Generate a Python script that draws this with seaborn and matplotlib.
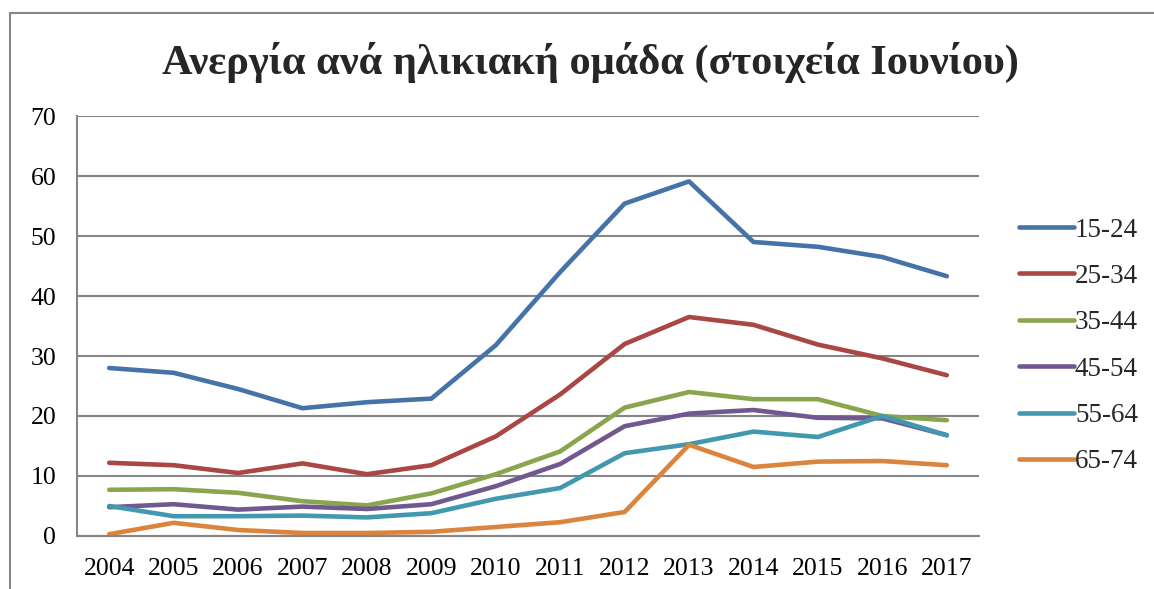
import pandas as pd
import matplotlib.pyplot as plt
import matplotlib.patches as mpatches
import seaborn as sns

# Data
years = ['2004', '2005', '2006', '2007', '2008', '2009', '2010',
         '2011', '2012', '2013', '2014', '2015', '2016', '2017']
groups = ['15-24', '25-34', '35-44', '45-54', '55-64', '65-74']
age_15_24 = [28.0, 27.2, 24.5, 21.3, 22.3, 22.9, 31.8, 44.0, 55.4, 59.1, 49.0, 48.2, 46.5, 43.3]
age_25_34 = [12.2, 11.8, 10.5, 12.1, 10.3, 11.8, 16.6, 23.6, 32.0, 36.5, 35.2, 31.9, 29.6, 26.8]
age_35_44 = [7.7, 7.8, 7.2, 5.8, 5.1, 7.1, 10.3, 14.1, 21.4, 24.0, 22.8, 22.8, 20.0, 19.3]
age_45_54 = [4.8, 5.3, 4.4, 4.9, 4.5, 5.3, 8.3, 12.0, 18.3, 20.4, 21.0, 19.7, 19.6, 16.8]
age_55_64 = [5.0, 3.3, 3.3, 3.4, 3.1, 3.8, 6.2, 8.0, 13.8, 15.3, 17.4, 16.5, 20.0, 16.8]
age_65_74 = [0.3, 2.2, 1.0, 0.5, 0.5, 0.7, 1.5, 2.3, 4.0, 15.2, 11.5, 12.4, 12.5, 11.8]
colors = ['#4573A7', '#AA4643', '#89A54E', '#71588F', '#4198AF', '#DB843D']

series = [age_15_24, age_25_34, age_35_44, age_45_54, age_55_64, age_65_74]
df = pd.concat([pd.DataFrame({'year': years, 'rate': vals, 'group': g})
                for g, vals in zip(groups, series)], ignore_index=True)

sns.set_theme(style="white")
plt.rcParams['font.family'] = ['Liberation Serif', 'DejaVu Serif']

fig = plt.figure(figsize=(11.54, 5.89), dpi=100)
ax = fig.add_axes([77 / 1154, 1 - 536 / 589, (979 - 77) / 1154, (536 - 116) / 589])

sns.lineplot(data=df, x='year', y='rate', hue='group', palette=colors,
             linewidth=3.3, ax=ax, legend=True)

ax.set_xlim(-0.5, len(years) - 0.5)
ax.set_ylim(0, 70)
ax.set_yticks(range(0, 71, 10))
ax.set_xlabel('')
ax.set_ylabel('')
ax.grid(axis='y', color='#868686', linewidth=1.5)
ax.set_axisbelow(True)
for side in ['top', 'right']:
    ax.spines[side].set_visible(False)
for side in ['left', 'bottom']:
    ax.spines[side].set_color('#868686')
    ax.spines[side].set_linewidth(1.5)
ax.tick_params(axis='both', length=0, labelsize=18.5, colors='black')
ax.tick_params(axis='y', pad=15)
ax.tick_params(axis='x', pad=16)

handles, labels = ax.get_legend_handles_labels()
ax.legend(handles, labels, loc='center left', bbox_to_anchor=(995 / 1154, 1 - 346 / 589),
          bbox_transform=fig.transFigure, frameon=False, fontsize=19.5,
          handlelength=2.0, handletextpad=0.05, labelspacing=0.79)

fig.text(590 / 1154, 1 - 62 / 589, 'Ανεργία ανά ηλικιακή ομάδα (στοιχεία Ιουνίου)',
         ha='center', va='center', fontsize=30.5, fontweight='bold')

# outer chart frame (top and left edges visible)
fig.patches.append(mpatches.Rectangle((10 / 1154, -0.1), 1.2, 1 - 13 / 589 + 0.1,
                                      transform=fig.transFigure, fill=False,
                                      edgecolor='#868686', linewidth=1.5))

fig.savefig('out.png', dpi=100)
